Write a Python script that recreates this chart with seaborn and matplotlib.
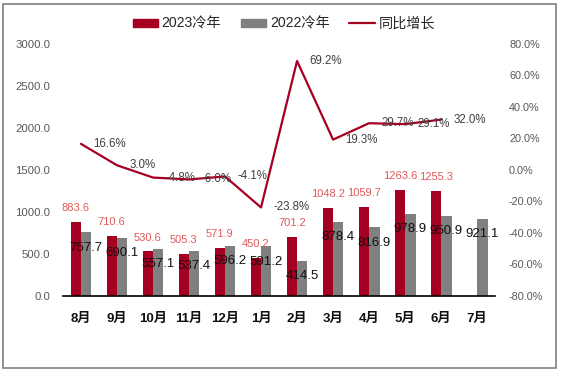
import numpy as np
import pandas as pd
import seaborn as sns
import matplotlib.pyplot as plt
from matplotlib.patches import Patch, Rectangle
from matplotlib.lines import Line2D
from matplotlib.ticker import FuncFormatter

months = ["8月", "9月", "10月", "11月", "12月", "1月", "2月", "3月", "4月", "5月", "6月", "7月"]
vals_2023 = [883.6, 710.6, 530.6, 505.3, 571.9, 450.2, 701.2, 1048.2, 1059.7, 1263.6, 1255.3, np.nan]
vals_2022 = [757.7, 690.1, 557.1, 537.4, 596.2, 591.2, 414.5, 878.4, 816.9, 978.9, 950.9, 921.1]
yoy = [16.6, 3.0, -4.8, -6.0, -4.1, -23.8, 69.2, 19.3, 29.7, 29.1, 32.0, np.nan]

red = "#a50021"
grey = "#808080"
label_red = "#e05a5a"

sns.set_theme(style="white")
plt.rcParams["font.family"] = ["Liberation Sans", "Noto Sans CJK SC", "DejaVu Sans"]

df = pd.DataFrame({
    "month": months * 2,
    "series": ["2023冷年"] * 12 + ["2022冷年"] * 12,
    "value": vals_2023 + vals_2022,
})

fig = plt.figure(figsize=(5.62, 3.75), dpi=100)
ax = fig.add_axes([0.112, 0.2107, 0.769, 0.672])

sns.barplot(data=df, x="month", y="value", hue="series", order=months,
            hue_order=["2023冷年", "2022冷年"], palette=[red, grey], saturation=1,
            width=0.58, gap=0, linewidth=0, errorbar=None, legend=False, ax=ax, zorder=2)

ax.set_ylim(0, 3000)
ax.set_yticks(np.arange(0, 3001, 500))
ax.yaxis.set_major_formatter(FuncFormatter(lambda v, p: f"{v:.1f}"))
ax.set_xlim(-0.5, 11.5)
ax.set_xlabel("")
ax.set_ylabel("")
for s in ["top", "right", "left"]:
    ax.spines[s].set_visible(False)
ax.spines["bottom"].set_color("#000000")
ax.spines["bottom"].set_linewidth(1.2)
ax.tick_params(axis="y", length=0, labelsize=8.2, labelcolor="#595959", pad=9)
ax.set_xticks(np.arange(12))
ax.set_xticklabels(months, fontsize=9.5, color="#111111", fontweight="bold")
ax.set_xticks(np.arange(-0.5, 12, 1), minor=True)
ax.tick_params(axis="x", which="major", length=0, pad=12)
ax.tick_params(axis="x", which="minor", length=4, width=1.2, color="#000000", direction="out")

# bar labels
for bar, v in zip(ax.containers[0], vals_2023):
    if np.isnan(v):
        continue
    ax.annotate(f"{v:.1f}", (bar.get_x() + bar.get_width() / 2, bar.get_height()),
                xytext=(0, 10), textcoords="offset points", ha="center", va="center",
                fontsize=8, color=label_red, zorder=5)
for bar, v in zip(ax.containers[1], vals_2022):
    ax.annotate(f"{v:.1f}", (bar.get_x() + bar.get_width() / 2, bar.get_height()),
                xytext=(0, -11), textcoords="offset points", ha="center", va="center",
                fontsize=9.5, color="#111111", zorder=5)

ax2 = ax.twinx()
xs = np.arange(len(months))
sns.lineplot(x=xs[:11], y=yoy[:11], color=red, linewidth=1.6, sort=False, ax=ax2, zorder=3)
ax2.set_ylim(-80, 80)
ax2.set_yticks(np.arange(-80, 81, 20))
ax2.yaxis.set_major_formatter(FuncFormatter(lambda v, p: f"{v:.1f}%"))
ax2.tick_params(axis="y", length=0, labelsize=7.8, labelcolor="#595959", pad=10)
for s in ["top", "right", "left", "bottom"]:
    ax2.spines[s].set_visible(False)
ax2.set_xlim(-0.5, 11.5)
for x, v in zip(xs, yoy):
    if np.isnan(v):
        continue
    ax2.annotate(f"{v:.1f}%", (x, v), xytext=(9, 0), textcoords="offset points",
                 ha="left", va="center", fontsize=8.3, color="#404040")

handles = [Patch(facecolor=red, edgecolor=red), Patch(facecolor=grey, edgecolor=grey),
           Line2D([0], [0], color=red, linewidth=1.6)]
fig.legend(handles, ["2023冷年", "2022冷年", "同比增长"], loc="center", ncol=3,
           bbox_to_anchor=(0.505, 0.936), frameon=False, fontsize=10.2,
           handlelength=1.8, handleheight=0.5, handletextpad=0.25, columnspacing=1.4)

fig.patches.append(Rectangle((3 / 562, 1 - 368 / 375), 553 / 562, 364 / 375,
                             transform=fig.transFigure, fill=False,
                             edgecolor="#7f7f7f", linewidth=1.2))

fig.savefig("out.png", dpi=100)
